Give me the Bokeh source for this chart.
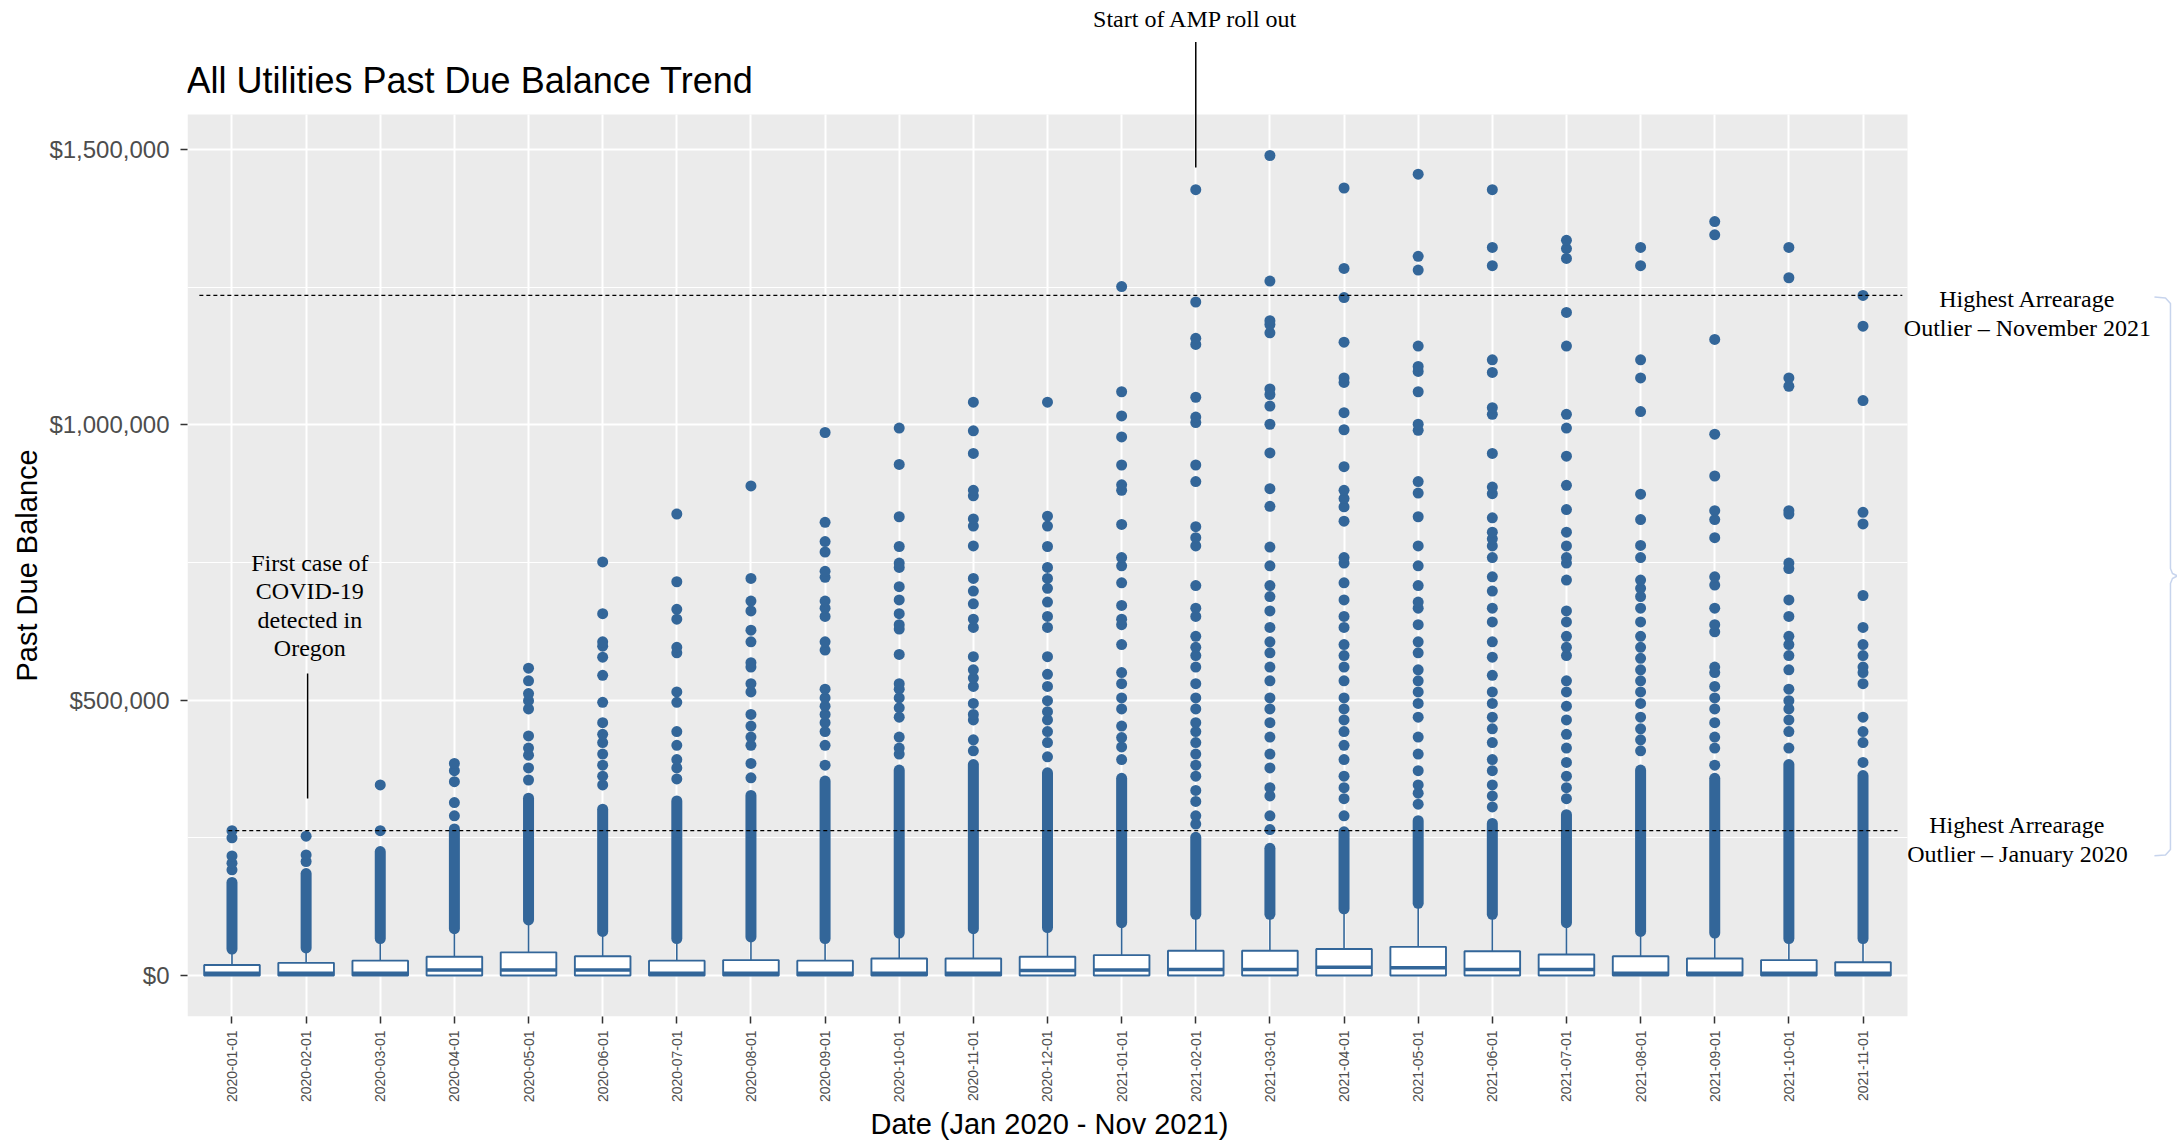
import math
from bokeh.plotting import figure
from bokeh.models import (ColumnDataSource, Range1d, FixedTicker, NumeralTickFormatter,
                          Label, Arrow, PolyAnnotation, BoxAnnotation, Title)
from bokeh.embed import file_html
from bokeh.resources import INLINE

# ---------------- data (values in thousands of dollars) ----------------
months = ["2020-01-01", "2020-02-01", "2020-03-01", "2020-04-01", "2020-05-01", "2020-06-01",
          "2020-07-01", "2020-08-01", "2020-09-01", "2020-10-01", "2020-11-01", "2020-12-01",
          "2021-01-01", "2021-02-01", "2021-03-01", "2021-04-01", "2021-05-01", "2021-06-01",
          "2021-07-01", "2021-08-01", "2021-09-01", "2021-10-01", "2021-11-01"]

q1 = [0, 0, 0, 0, 0, 0, 0, 0, 0, 0, 0, 0, 0, 0, 0, 0, 0, 0, 0, 0, 0, 0, 0]
median = [4, 4, 4, 10, 10, 10, 4, 4, 4, 4, 4, 9, 10, 11, 11, 15, 14, 11, 11, 4, 4, 4, 4]
q3 = [19, 23, 27, 34, 42, 35, 27, 28, 27, 31, 31, 34, 37, 45, 45, 48, 52, 44, 38, 35, 31, 28, 24]
whisker_hi = [44, 46, 63, 81, 97, 76, 63, 66, 63, 73, 81, 83, 92, 107, 107, 117, 127, 107, 92, 76, 73, 63, 63]

# continuous runs of overlapping outliers (lowest and highest outlier of each run)
run_lo = [48, 50, 67, 85, 101, 80, 67, 70, 67, 77, 85, 87, 96, 111, 111, 121, 131, 111, 96, 80, 77, 67, 67]
run_hi = [169, 185, 225, 266, 322, 302, 317, 327, 353, 373, 383, 368, 358, 251, 231, 261, 281, 276, 292,
          373, 358, 383, 363]

# separated outliers above the runs
out_2020_01 = [192, 204, 217, 250, 263]
out_2020_02 = [207, 219, 253]
out_2020_03 = [263, 346]
out_2020_04 = [290, 314, 352, 372, 385]
out_2020_05 = [355, 377, 400, 413, 435, 484, 499, 512, 535, 558]
out_2020_06 = [346, 362, 382, 402, 423, 438, 459, 496, 545, 578, 598, 606, 657, 751]
out_2020_07 = [357, 377, 392, 418, 443, 496, 515, 586, 596, 647, 665, 715, 838]
out_2020_08 = [359, 385, 418, 433, 453, 474, 515, 530, 560, 568, 606, 627, 662, 680, 721, 889]
out_2020_09 = [382, 418, 443, 459, 474, 489, 504, 520, 591, 606, 652, 667, 680, 723, 734, 769, 788, 823, 986]
out_2020_10 = [402, 413, 433, 469, 486, 504, 520, 530, 583, 629, 637, 657, 682, 706, 741, 749, 779, 833,
               928, 994]
out_2020_11 = [408, 428, 464, 474, 494, 525, 540, 555, 579, 632, 647, 675, 698, 721, 780, 816, 829, 871,
               881, 948, 989, 1041]
out_2020_12 = [397, 423, 443, 464, 479, 499, 525, 547, 579, 632, 652, 678, 703, 721, 741, 779, 816, 834, 1041]
out_2021_01 = [392, 415, 432, 453, 484, 504, 530, 550, 601, 637, 647, 672, 713, 744, 759, 819, 881, 891,
               927, 978, 1016, 1060, 1251]
out_2021_02 = [275, 290, 316, 336, 362, 382, 402, 423, 443, 459, 484, 504, 530, 560, 581, 596, 616, 652,
               667, 708, 780, 795, 815, 897, 927, 1004, 1014, 1050, 1146, 1157, 1223, 1427]
out_2021_03 = [265, 290, 326, 341, 377, 402, 433, 459, 484, 504, 535, 560, 586, 606, 632, 662, 688, 708,
               744, 778, 852, 884, 949, 1001, 1034, 1055, 1065, 1167, 1182, 1189, 1261, 1489]
out_2021_04 = [290, 321, 341, 362, 392, 418, 443, 464, 484, 504, 535, 560, 581, 601, 632, 652, 682, 713,
               749, 759, 825, 851, 866, 881, 924, 991, 1022, 1077, 1085, 1150, 1231, 1284, 1430]
out_2021_05 = [311, 331, 346, 372, 402, 433, 469, 494, 515, 535, 555, 586, 606, 637, 667, 678, 708, 744,
               780, 833, 876, 897, 990, 1001, 1060, 1097, 1106, 1143, 1281, 1306, 1455]
out_2021_06 = [306, 326, 346, 372, 392, 423, 448, 469, 494, 515, 545, 578, 606, 642, 667, 698, 724, 759,
               780, 793, 805, 831, 875, 887, 948, 1019, 1031, 1095, 1118, 1289, 1322, 1427]
out_2021_07 = [321, 341, 362, 387, 413, 438, 464, 489, 515, 535, 581, 596, 616, 642, 662, 718, 749, 759,
               780, 805, 846, 890, 943, 994, 1019, 1143, 1204, 1302, 1320, 1335]
out_2021_08 = [408, 428, 448, 469, 494, 515, 535, 555, 576, 596, 616, 642, 667, 688, 703, 718, 759, 781,
               828, 874, 1024, 1085, 1118, 1289, 1322]
out_2021_09 = [382, 413, 433, 459, 484, 504, 525, 550, 560, 624, 637, 667, 709, 724, 795, 828, 844, 907,
               983, 1155, 1345, 1369]
out_2021_10 = [413, 443, 464, 484, 499, 520, 555, 581, 601, 616, 652, 682, 739, 749, 838, 844, 1070, 1085,
               1267, 1322]
out_2021_11 = [387, 423, 443, 469, 530, 550, 560, 581, 601, 632, 690, 820, 841, 1044, 1179, 1235]

outliers = [out_2020_01, out_2020_02, out_2020_03, out_2020_04, out_2020_05, out_2020_06,
            out_2020_07, out_2020_08, out_2020_09, out_2020_10, out_2020_11, out_2020_12,
            out_2021_01, out_2021_02, out_2021_03, out_2021_04, out_2021_05, out_2021_06,
            out_2021_07, out_2021_08, out_2021_09, out_2021_10, out_2021_11]

y_ticks = [0, 500000, 1000000, 1500000]
y_minor = [250000, 750000, 1250000]

# ---------------- build ----------------
K = 1000  # thousands -> dollars
BLUE = "#336699"
SANS = "Liberation Sans"
SERIF = "Liberation Serif"

n = len(months)
xpos = [i + 0.5 for i in range(n)]              # category slots, like a discrete scale
PANEL_X = (-0.1, n + 0.1)                        # 0.6 slot expansion around first/last month
PANEL_Y = (-74450, 1563450)                      # 5% expansion around 0 .. max outlier

box_src = ColumnDataSource(dict(
    x=xpos,
    q1=[v * K for v in q1],
    median=[v * K for v in median],
    q3=[v * K for v in q3],
    whisker_hi=[v * K for v in whisker_hi],
    run_lo=[v * K for v in run_lo],
    run_hi=[v * K for v in run_hi],
))
pt_src = ColumnDataSource(dict(
    x=[xpos[i] for i, vals in enumerate(outliers) for _ in vals],
    value=[v * K for vals in outliers for v in vals],
))

# the frame also covers the margins where the call-outs sit, so that they are not clipped
p = figure(width=2177, height=1142,
           x_range=Range1d(PANEL_X[0], 26.742), y_range=Range1d(PANEL_Y[0], 1770457),
           output_backend="svg", toolbar_location=None,
           min_border_left=187, min_border_right=0, min_border_top=0, min_border_bottom=126)

p.background_fill_color = "white"
p.border_fill_color = "white"
p.outline_line_color = None

p.add_layout(BoxAnnotation(left=PANEL_X[0], right=PANEL_X[1], bottom=PANEL_Y[0], top=PANEL_Y[1],
                           fill_color="#EBEBEB", fill_alpha=1, line_color=None, level="image"))

# axes
for ax in (p.xaxis[0], p.yaxis[0]):
    ax.axis_line_color = None
    ax.major_tick_in = 0
    ax.major_tick_out = 7
    ax.major_tick_line_color = "#333333"
    ax.major_tick_line_width = 1.5
    ax.minor_tick_line_color = None
    ax.major_label_text_font = SANS
    ax.major_label_text_color = "#4D4D4D"

p.yaxis.ticker = FixedTicker(ticks=y_ticks, minor_ticks=y_minor)
p.yaxis.formatter = NumeralTickFormatter(format="$0,0")
p.yaxis.major_label_text_font_size = "24px"
p.yaxis.major_label_standoff = 11

p.xaxis.ticker = FixedTicker(ticks=xpos)
p.xaxis.major_label_overrides = {x: m for x, m in zip(xpos, months)}
p.xaxis.major_label_orientation = math.pi / 2
p.xaxis.major_label_text_font_size = "14px"
p.xaxis.major_label_standoff = 7

# axis titles
p.add_layout(Title(text="Past Due Balance", align="left", offset=335, standoff=8,
                   text_font=SANS, text_font_size="29px", text_font_style="normal",
                   text_color="black"), "left")
p.add_layout(Title(text="Date (Jan 2020 - Nov 2021)", align="left", offset=683, standoff=0,
                   text_font=SANS, text_font_size="29px", text_font_style="normal",
                   text_color="black"), "below")

# grid
p.xgrid.grid_line_color = "white"
p.xgrid.grid_line_width = 2
p.xgrid.cross_bounds = PANEL_Y
p.ygrid.grid_line_color = "white"
p.ygrid.grid_line_width = 2
p.ygrid.minor_grid_line_color = "white"
p.ygrid.minor_grid_line_width = 1.2
p.ygrid.cross_bounds = PANEL_X

# boxplots
p.segment(x0="x", y0="q3", x1="x", y1="whisker_hi", source=box_src,
          line_color=BLUE, line_width=1.6)
p.vbar(x="x", width=0.75, bottom="q1", top="q3", source=box_src,
       fill_color="white", line_color=BLUE, line_width=1.9)
p.rect(x="x", y="median", width=0.75, height=3.4, height_units="screen", source=box_src,
       fill_color=BLUE, line_color=None)
p.segment(x0="x", y0="run_lo", x1="x", y1="run_hi", source=box_src,
          line_color=BLUE, line_width=11, line_cap="round")
p.scatter(x="x", y="value", source=pt_src, size=11, fill_color=BLUE, line_color=None)

# reference lines: highest outlier of Jan 2020 and of Nov 2021
hi_nov21 = max(out_2021_11) * K
hi_jan20 = max(out_2020_01) * K
p.segment(x0=[0.06, 0.45], y0=[hi_nov21, hi_jan20], x1=[23.03, 22.965], y1=[hi_nov21, hi_jan20],
          line_color="black", line_width=1.2, line_dash="4 3")

# title and call-outs
p.add_layout(Label(x=-0.113, y=1625186, text="All Utilities Past Due Balance Trend",
                   text_align="left", text_baseline="alphabetic",
                   text_font=SANS, text_font_size="36px", text_color="black"))

LIFT = 15000  # raise the serif call-outs slightly

def note(x, y, text, align="center"):
    p.add_layout(Label(x=x, y=y + LIFT, text=text, text_align=align, text_baseline="alphabetic",
                       text_font=SERIF, text_font_size="24px", text_color="black"))

amp_x = xpos[months.index("2021-02-01")]
covid_x = xpos[months.index("2020-02-01")]

note(amp_x, 1722000, "Start of AMP roll out")
p.add_layout(Arrow(end=None, x_start=amp_x, y_start=1467207, x_end=amp_x, y_end=1695004,
                   line_color="black", line_width=1.5))

covid_lines = ["First case of", "COVID-19", "detected in", "Oregon"]
for i, t in enumerate(covid_lines):
    note(covid_x + 0.05, 734150 - i * 51400, t)
p.add_layout(Arrow(end=None, x_start=covid_x + 0.02, y_start=321405, x_end=covid_x + 0.02, y_end=548387,
                   line_color="black", line_width=1.5))

note(24.718, 1212988, "Highest Arrearage")
note(24.718, 1161235, "Outlier \u2013 November 2021")
note(24.583, 258759, "Highest Arrearage")
note(24.583, 206099, "Outlier \u2013 January 2020")

bx = [26.431, 26.580, 26.647, 26.647, 26.674, 26.741, 26.674, 26.647, 26.647, 26.580, 26.431]
by = [1232236, 1230238, 1220251, 739036, 729957, 725598, 720877, 711798, 228797, 218810, 217357]
p.add_layout(PolyAnnotation(xs=bx + bx[::-1], ys=by + by[::-1], fill_alpha=0,
                            line_color="#4472C4", line_width=1.5))

open("out.html", "w").write(file_html(p, INLINE))
